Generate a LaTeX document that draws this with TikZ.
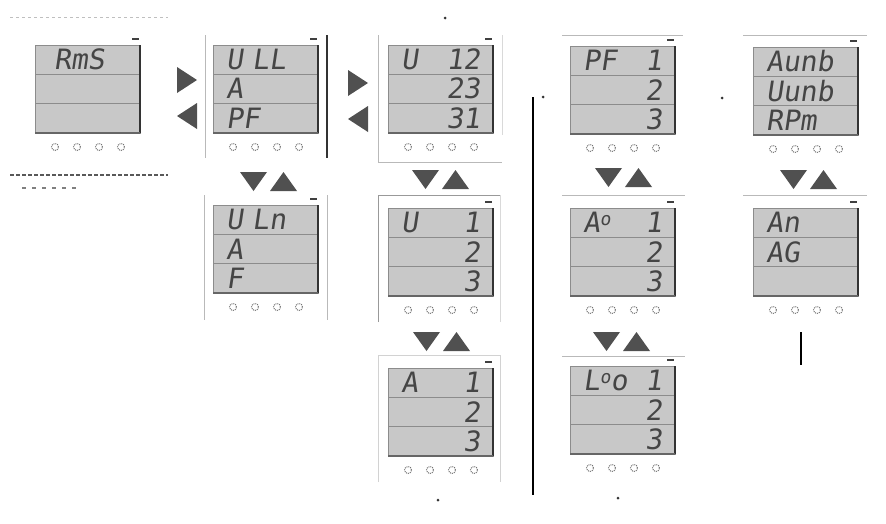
\documentclass[tikz,border=0pt]{standalone}
\usepackage{fontspec}
\usepackage{xcolor}
\usepackage{tikz}
\usetikzlibrary{positioning}
\newfontfamily\lcdfont[FakeSlant=0.15]{DejaVu Sans Mono}
\newcommand{\supo}{\raisebox{7pt}{\fontsize{18}{18}\selectfont o}}
\definecolor{lcdgray}{HTML}{C8C8C8}
\definecolor{rowline}{HTML}{8C8C8C}
\definecolor{segtext}{HTML}{454545}
\definecolor{tipgray}{HTML}{505050}

\begin{document}
\begin{tikzpicture}[x=1pt, y=-1pt,
    screenrow/.style={rectangle, draw=rowline, fill=lcdgray, line width=0.8pt, outer sep=0pt,
        minimum width=105pt, minimum height=29.33pt, text width=79pt, inner xsep=13pt, inner ysep=0pt,
        text height=20pt, text depth=0pt, font=\lcdfont\fontsize{28}{28}\selectfont, text=segtext},
    edge/.style={line width=2pt, draw=black!80},
    frame/.style={line width=1pt, draw=gray!55},
    navtip/.style={fill=tipgray},
    keyicon/.style={draw=black!55, densely dotted, line width=1pt},
    tagmark/.style={line width=1.5pt, draw=black!75}
]
    \useasboundingbox (0,0) rectangle (886,523);

    % Screens, top row
    \node[screenrow, anchor=north west] (rms1) at (35,45) {\hspace{6pt}RmS};
    \node[screenrow, below=0pt of rms1] (rms2) {};
    \node[screenrow, below=0pt of rms2] (rms3) {};

    \node[screenrow, anchor=north west] (ull1) at (213,45) {U LL};
    \node[screenrow, below=0pt of ull1] (ull2) {A};
    \node[screenrow, below=0pt of ull2] (ull3) {PF};

    \node[screenrow, anchor=north west] (u121) at (388,45) {U\hfill 12};
    \node[screenrow, below=0pt of u121] (u122) {\hfill 23};
    \node[screenrow, below=0pt of u122] (u123) {\hfill 31};

    \node[screenrow, anchor=north west] (pf1) at (570,46) {PF\hfill 1};
    \node[screenrow, below=0pt of pf1] (pf2) {\hfill 2};
    \node[screenrow, below=0pt of pf2] (pf3) {\hfill 3};

    \node[screenrow, anchor=north west] (aunb1) at (753,47) {Aunb};
    \node[screenrow, below=0pt of aunb1] (aunb2) {Uunb};
    \node[screenrow, below=0pt of aunb2] (aunb3) {RPm};

    % Screens, second row
    \node[screenrow, anchor=north west] (uln1) at (213,205) {U Ln};
    \node[screenrow, below=0pt of uln1] (uln2) {A};
    \node[screenrow, below=0pt of uln2] (uln3) {F};

    \node[screenrow, anchor=north west] (u11) at (388,208) {U\hfill 1};
    \node[screenrow, below=0pt of u11] (u12) {\hfill 2};
    \node[screenrow, below=0pt of u12] (u13) {\hfill 3};

    \node[screenrow, anchor=north west] (adeg1) at (570,208) {A\supo\hfill 1};
    \node[screenrow, below=0pt of adeg1] (adeg2) {\hfill 2};
    \node[screenrow, below=0pt of adeg2] (adeg3) {\hfill 3};

    \node[screenrow, anchor=north west] (an1) at (753,208) {An};
    \node[screenrow, below=0pt of an1] (an2) {AG};
    \node[screenrow, below=0pt of an2] (an3) {};

    % Screens, third row
    \node[screenrow, anchor=north west] (a11) at (388,368) {A\hfill 1};
    \node[screenrow, below=0pt of a11] (a12) {\hfill 2};
    \node[screenrow, below=0pt of a12] (a13) {\hfill 3};

    \node[screenrow, anchor=north west] (ldeg1) at (570,366) {L\supo o\hfill 1};
    \node[screenrow, below=0pt of ldeg1] (ldeg2) {\hfill 2};
    \node[screenrow, below=0pt of ldeg2] (ldeg3) {\hfill 3};

    % Display edges, marks and keys
    \foreach \s in {rms,ull,u12,pf,aunb,uln,u1,adeg,an,a1,ldeg} {
        \draw[edge] (\s1.north east) -- (\s3.south east);
        \draw[line width=1.2pt, draw=black!60] (\s3.south east) -- (\s3.south west);
        \draw[tagmark] ([xshift=-8pt, yshift=6pt]\s1.north east) -- ++(7,0);
        \foreach \k in {20,42,64,86}
            \draw[keyicon] ([xshift=\k pt, yshift=-14pt]\s3.south west) circle (3.5pt);
    }

    % Frames
    \draw[frame] (205,35) -- (205,158);
    \draw[line width=1.5pt, draw=black!80] (327,35) -- (327,158);
    \draw[frame] (378,35) -- (378,162) -- (502,162);
    \draw[frame, draw=gray!30] (502,35) -- (502,135);
    \draw[frame] (204,195) -- (204,320);
    \draw[frame] (327,195) -- (327,320);
    \draw[frame, draw=gray!80] (378,322) -- (378,195) -- (500,195);
    \draw[frame, draw=gray!30] (500,195) -- (500,322);
    \draw[frame, draw=gray!35] (378,482) -- (378,355) -- (500,355) -- (500,482);
    \draw[frame] (562,35) -- (683,35);
    \draw[frame] (562,195) -- (685,195);
    \draw[frame] (562,356) -- (685,356);
    \draw[frame] (743,35) -- (867,35);
    \draw[frame] (743,195) -- (867,195);

    % Navigation arrows
    \foreach \x/\y in {177/67, 348/70} {
        \fill[navtip] (\x,\y) -- ++(20,13) -- ++(-20,13) -- cycle;
        \fill[navtip] (\x+20,\y+36) -- ++(-20,13) -- ++(20,13) -- cycle;
    }
    \foreach \x/\y in {240/172, 412/170, 413/332, 595/168, 593/332, 780/170} {
        \fill[navtip] (\x,\y) -- ++(27,0) -- ++(-13.5,19) -- cycle;
        \fill[navtip] (\x+30,\y+19) -- ++(27,0) -- ++(-13.5,-19) -- cycle;
    }

    % Lines and small marks
    \draw[line width=1.3pt] (533,97) -- (533,495);
    \draw[line width=1.3pt] (801,332) -- (801,365);
    \draw[gray!50, dash pattern=on 3pt off 3pt, line width=1pt] (10,17) -- (168,17);
    \draw[gray!70!black, dash pattern=on 4pt off 2pt, line width=1.2pt] (10,175) -- (168,175);
    \draw[gray, dash pattern=on 4pt off 6pt, line width=1.5pt] (22,188) -- (80,188);
    \foreach \p in {(445,18),(543,97),(722,98),(438,500),(618,498)}
        \fill[black!80] \p circle (1.5pt);
\end{tikzpicture}
\end{document}
